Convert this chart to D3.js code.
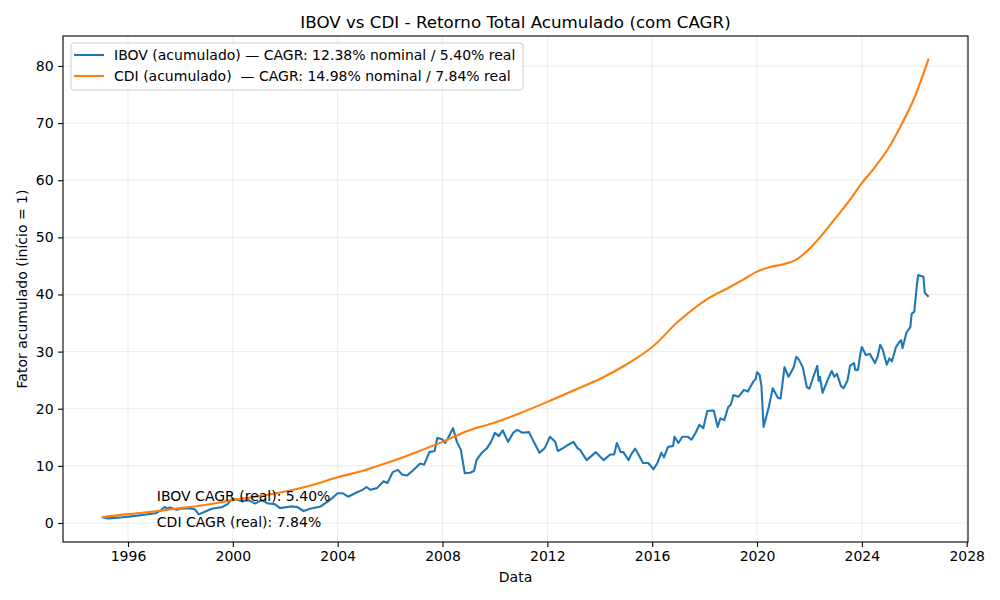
<!DOCTYPE html>
<html lang="pt">
<head>
<meta charset="utf-8">
<title>IBOV vs CDI</title>
<script src="https://cdn.jsdelivr.net/npm/d3@7"></script>
<style>
  body { margin: 0; background: #fff; }
  svg text { font-family: "DejaVu Sans", sans-serif; fill: #000; }
</style>
</head>
<body>
<script>
// IBOV accumulated factor (decimal year)
var ibovYears = [1995.0,1995.25,1995.5,1995.8,1996.2,1996.55,1997.05,1997.25,1997.4,1997.5,1997.6,1997.85,1998.0,1998.3,1998.55,1998.7,1998.95,1999.2,1999.6,1999.8,
  2000.0,2000.35,2000.6,2000.85,2001.1,2001.35,2001.6,2001.8,2002.2,2002.45,2002.7,2002.95,2003.35,2003.7,2004.0,2004.2,2004.4,2004.7,2004.95,2005.1,
  2005.25,2005.5,2005.75,2005.9,2006.1,2006.3,2006.45,2006.65,2006.9,2007.15,2007.3,2007.5,2007.7,2007.8,2008.0,2008.1,2008.2,2008.4,2008.55,2008.7,
  2008.85,2009.05,2009.2,2009.3,2009.5,2009.7,2009.85,2010.0,2010.15,2010.3,2010.5,2010.7,2010.85,2011.05,2011.3,2011.45,2011.7,2011.9,2012.1,2012.3,
  2012.4,2012.6,2012.8,2013.0,2013.15,2013.25,2013.5,2013.85,2014.15,2014.4,2014.55,2014.65,2014.8,2014.9,2015.1,2015.2,2015.35,2015.5,2015.65,2015.85,
  2016.05,2016.2,2016.35,2016.45,2016.6,2016.8,2016.85,2017.0,2017.15,2017.35,2017.5,2017.65,2017.8,2017.95,2018.1,2018.35,2018.5,2018.6,2018.75,2018.9,
  2019.0,2019.1,2019.3,2019.5,2019.65,2019.85,2019.95,2020.0,2020.1,2020.17,2020.25,2020.45,2020.6,2020.8,2020.9,2021.05,2021.2,2021.35,2021.4,2021.5,
  2021.6,2021.75,2021.9,2022.0,2022.15,2022.3,2022.35,2022.4,2022.5,2022.7,2022.85,2022.95,2023.05,2023.2,2023.3,2023.45,2023.55,2023.7,2023.75,2023.85,
  2023.95,2024.0,2024.15,2024.3,2024.5,2024.6,2024.7,2024.8,2024.95,2025.05,2025.15,2025.3,2025.45,2025.5,2025.55,2025.7,2025.85,2025.9,2026.0,2026.1,
  2026.15,2026.35,2026.4,2026.55];
var ibovValues = [1.0,0.8,0.9,1.0,1.2,1.4,1.7,2.2,2.8,2.5,2.7,2.3,2.5,2.6,2.4,1.5,2.0,2.5,2.8,3.3,
  4.3,3.8,4.0,3.4,4.0,3.4,3.3,2.6,2.9,2.8,2.1,2.5,2.9,4.0,5.2,5.2,4.6,5.3,5.8,6.3,
  5.8,6.1,7.3,7.0,8.9,9.3,8.5,8.3,9.3,10.4,10.2,12.4,12.6,14.9,14.6,14.0,14.8,16.6,14.2,12.8,
  8.7,8.8,9.1,11.0,12.3,13.1,14.2,15.8,15.2,16.2,14.2,15.8,16.3,15.8,15.9,14.5,12.3,13.1,15.1,14.2,
  12.6,13.1,13.7,14.2,13.1,12.8,11.0,12.4,11.0,12.0,12.0,14.0,12.4,12.4,11.0,12.0,13.0,11.8,10.5,10.5,
  9.4,10.5,12.3,11.5,13.3,13.5,15.1,14.0,15.1,15.1,14.6,15.7,17.2,16.6,19.6,19.7,16.8,18.3,18.0,20.3,
  20.7,22.4,22.1,23.3,23.0,24.7,25.2,26.4,25.9,23.9,16.8,20.3,23.6,21.9,21.8,27.3,25.6,26.8,27.3,29.1,
  28.6,27.2,23.8,23.5,25.6,27.5,24.9,25.6,22.8,25.1,26.6,25.6,26.1,24.0,23.6,24.9,27.5,28.0,26.8,26.8,
  29.8,30.8,29.4,29.6,28.0,29.1,31.2,30.3,27.7,28.8,28.3,30.8,31.8,32.0,30.6,33.3,34.3,36.6,37.0,41.7,
  43.4,43.1,40.3,39.6];

// CDI accumulated factor
var cdiYears = [1995.0,1996,1997,1998,1999,2000,2001,2002,2003,2004,2005,2006,2007,2008,2009,2010,2011,2012,2013,2014,
  2015,2016,2017,2018,2019,2019.5,2020,2020.5,2021,2021.5,2022,2022.4,2023,2023.55,2024,2024.5,2025,2025.45,2026,2026.55];
var cdiValues = [1.0,1.55,2.0,2.6,3.2,4.0,4.7,5.5,6.6,8.0,9.2,10.7,12.4,14.2,16.2,17.6,19.3,21.2,23.2,25.2,
  27.7,30.8,35.3,38.9,41.4,42.7,44.0,44.8,45.3,46.1,48.0,50.0,53.4,56.6,59.5,62.3,65.5,69.2,74.4,81.3];

var xTicks = [1996,2000,2004,2008,2012,2016,2020,2024,2028];
var yTicks = [0,10,20,30,40,50,60,70,80];

var legendLabels = ["IBOV (acumulado) \u2014 CAGR: 12.38% nominal / 5.40% real",
                    "CDI (acumulado)  \u2014 CAGR: 14.98% nominal / 7.84% real"];
var annotations = [{t: 1997.1, v: 3.85, text: "IBOV CAGR (real): 5.40%"},
                   {t: 1997.1, v: -0.7, text: "CDI CAGR (real): 7.84%"}];

var width = 1000, height = 600;
var pL = 63, pR = 968, pT = 36, pB = 542;
var blue = "#1f77b4", orange = "#ff7f0e";
var fs = "14px";

var svg = d3.select("body").append("svg")
    .attr("width", width)
    .attr("height", height);

var x = d3.scaleLinear().domain([1993.52, 2028.05]).range([pL, pR]);
var y = d3.scaleLinear().domain([-3.33, 85.25]).range([pB, pT]);

// grid
var grid = svg.append("g");
grid.selectAll("line.gx").data(xTicks).enter().append("line")
    .attr("x1", function(d){ return x(d); }).attr("x2", function(d){ return x(d); })
    .attr("y1", pT).attr("y2", pB)
    .attr("stroke", "#b0b0b0").attr("stroke-opacity", 0.3).attr("stroke-width", 0.8);
grid.selectAll("line.gy").data(yTicks).enter().append("line")
    .attr("x1", pL).attr("x2", pR)
    .attr("y1", function(d){ return y(d); }).attr("y2", function(d){ return y(d); })
    .attr("stroke", "#b0b0b0").attr("stroke-opacity", 0.3).attr("stroke-width", 0.8);

// axes
var xAxis = svg.append("g")
    .attr("transform", "translate(0," + pB + ")")
    .call(d3.axisBottom(x).tickValues(xTicks).tickFormat(d3.format("d")).tickSizeOuter(0).tickSize(4.9).tickPadding(4.5));
var yAxis = svg.append("g")
    .attr("transform", "translate(" + pL + ",0)")
    .call(d3.axisLeft(y).tickValues(yTicks).tickFormat(d3.format("d")).tickSizeOuter(0).tickSize(4.9).tickPadding(4.5));
[xAxis, yAxis].forEach(function(a){
  a.select(".domain").remove();
  a.selectAll("text").attr("font-size", fs).attr("font-family", "DejaVu Sans");
  a.selectAll("line").attr("stroke", "#000").attr("stroke-width", 1.1);
});

// lines
var ibov = d3.zip(ibovYears, ibovValues);
var cdi = d3.zip(cdiYears, cdiValues);
var line = d3.line().x(function(d){ return x(d[0]); }).y(function(d){ return y(d[1]); });

svg.append("path").datum(ibov)
    .attr("d", line)
    .attr("fill", "none").attr("stroke", blue).attr("stroke-width", 2.1)
    .attr("stroke-linejoin", "round");
svg.append("path").datum(cdi)
    .attr("d", line.curve(d3.curveMonotoneX))
    .attr("fill", "none").attr("stroke", orange).attr("stroke-width", 2.1);

// annotations
svg.selectAll("text.ann").data(annotations).enter().append("text")
    .attr("x", function(d){ return x(d.t); })
    .attr("y", function(d){ return y(d.v); })
    .attr("font-size", fs)
    .text(function(d){ return d.text; });

// frame
svg.append("rect")
    .attr("x", pL).attr("y", pT).attr("width", pR - pL).attr("height", pB - pT)
    .attr("fill", "none").attr("stroke", "#000").attr("stroke-width", 1.1);

// legend
var lg = svg.append("g").attr("transform", "translate(71,43)");
lg.append("rect")
    .attr("width", 452).attr("height", 47).attr("rx", 3)
    .attr("fill", "#fff").attr("fill-opacity", 0.8)
    .attr("stroke", "#cccccc").attr("stroke-width", 1);
var colors = [blue, orange];
legendLabels.forEach(function(lbl, i){
  var yy = 12 + i * 21;
  lg.append("line").attr("x1", 3).attr("x2", 33).attr("y1", yy).attr("y2", yy)
    .attr("stroke", colors[i]).attr("stroke-width", 2.1);
  lg.append("text").attr("x", 43).attr("y", yy + 5)
    .attr("font-size", fs)
    .style("white-space", "pre")
    .text(lbl);
});

// title & labels
svg.append("text").attr("x", (pL + pR) / 2).attr("y", 28)
    .attr("text-anchor", "middle").attr("font-size", "16.7px")
    .text("IBOV vs CDI - Retorno Total Acumulado (com CAGR)");
svg.append("text").attr("x", (pL + pR) / 2).attr("y", 582)
    .attr("text-anchor", "middle").attr("font-size", fs)
    .text("Data");
svg.append("text")
    .attr("transform", "translate(27," + ((pT + pB) / 2) + ") rotate(-90)")
    .attr("text-anchor", "middle").attr("font-size", fs)
    .text("Fator acumulado (início = 1)");
</script>
</body>
</html>
